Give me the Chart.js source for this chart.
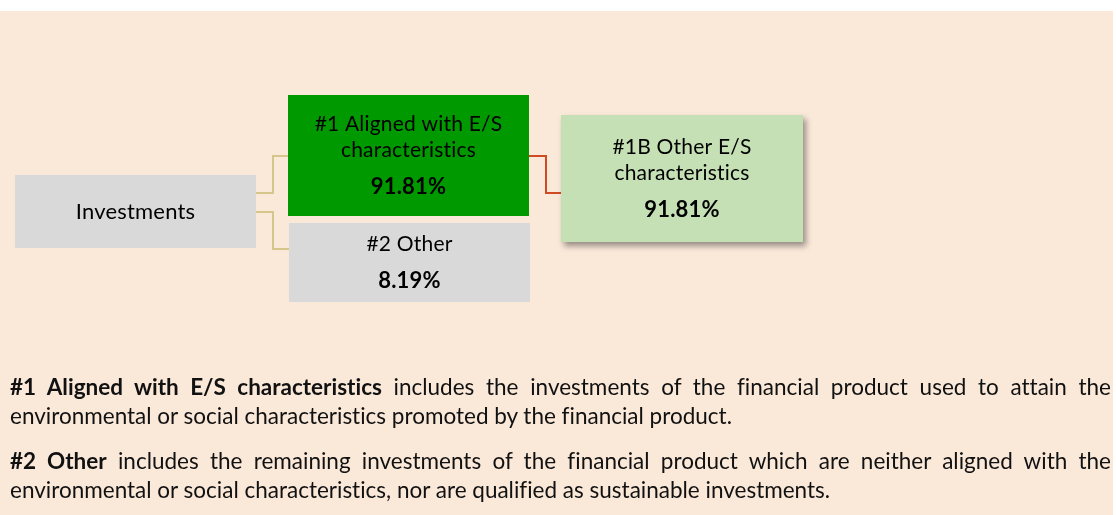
<!DOCTYPE html>
<html>
<head>
<meta charset="utf-8">
<script src="https://cdn.jsdelivr.net/npm/chart.js@4/dist/chart.umd.min.js"></script>
<style>
  html, body { margin: 0; padding: 0; background: #ffffff; }
  #wrap { position: relative; width: 1116px; height: 515px; overflow: hidden; }
  #bg { position: absolute; left: 0; top: 11px; width: 1113px; height: 504px; background: #FAE8D9; }
  #c { position: absolute; left: 0; top: 0; }
  #notes { position: absolute; left: 10px; top: 372px; width: 1101px; font-family: Lato, "Open Sans", sans-serif; font-size: 22.5px; line-height: 29px; color: #111; font-variant-ligatures: none; }
  #notes .p { margin: 0 0 16px 0; }
  #notes .l1 { text-align: justify; text-align-last: justify; white-space: nowrap; }
  #notes .l2 { text-align: left; white-space: nowrap; }
</style>
</head>
<body>
<div id="wrap">
  <div id="bg"></div>
  <canvas id="c" width="1116" height="515"></canvas>
  <div id="notes">
    <div class="p">
      <div class="l1"><b>#1 Aligned with E/S characteristics</b> includes the investments of the financial product used to attain the</div>
      <div class="l2">environmental or social characteristics promoted by the financial product.</div>
    </div>
    <div class="p">
      <div class="l1"><b>#2 Other</b> includes the remaining investments of the financial product which are neither aligned with the</div>
      <div class="l2">environmental or social characteristics, nor are qualified as sustainable investments.</div>
    </div>
  </div>
</div>
<script>
// ---- data ----
const categories = [
  ['Investments'],
  ['#1 Aligned with E/S', 'characteristics'],
  ['#2 Other'],
  ['#1B Other E/S', 'characteristics']
];
const shares = [null, 91.81, 8.19, 91.81];
const links = [[0, 1], [0, 2], [1, 3]];

// ---- layout (positions / styles, in scale units) ----
const boxLayout = [
  { x0: 15,  x1: 256, y0: 175, y1: 248, fill: '#D9D9D9', shadow: false },
  { x0: 288, x1: 529, y0: 95,  y1: 216, fill: '#009900', shadow: false },
  { x0: 289, x1: 530, y0: 223, y1: 302, fill: '#D9D9D9', shadow: false },
  { x0: 561, x1: 803, y0: 115, y1: 242, fill: '#C5E0B4', shadow: true }
];
const linkLayout = [
  { fromY: 193, toY: 156, midX: 273, color: '#D5C68C' },
  { fromY: 212, toY: 249, midX: 273, color: '#D5C68C' },
  { fromY: 156, toY: 193, midX: 546, color: '#D04B24' }
];

const FONT = 'Lato, "Open Sans", sans-serif';

const treePlugin = {
  id: 'tree',
  afterDatasetsDraw(chart) {
    const ctx = chart.ctx;
    const xs = chart.scales.x, ys = chart.scales.y;
    const px = v => xs.getPixelForValue(v);
    const py = v => ys.getPixelForValue(v);

    // connectors
    links.forEach(([a, b], i) => {
      const L = linkLayout[i];
      const A = boxLayout[a], B = boxLayout[b];
      ctx.save();
      ctx.strokeStyle = L.color;
      ctx.lineWidth = 2;
      ctx.beginPath();
      ctx.moveTo(px(A.x1), py(L.fromY));
      ctx.lineTo(px(L.midX), py(L.fromY));
      ctx.lineTo(px(L.midX), py(L.toY));
      ctx.lineTo(px(B.x0), py(L.toY));
      ctx.stroke();
      ctx.restore();
    });

    // boxes
    categories.forEach((lines, i) => {
      const B = boxLayout[i];
      const x0 = px(B.x0), x1 = px(B.x1), y0 = py(B.y0), y1 = py(B.y1);
      ctx.save();
      if (B.shadow) {
        ctx.shadowColor = 'rgba(0,0,0,0.4)';
        ctx.shadowBlur = 6;
        ctx.shadowOffsetX = 3;
        ctx.shadowOffsetY = 4;
      }
      ctx.fillStyle = B.fill;
      ctx.fillRect(x0, y0, x1 - x0, y1 - y0);
      ctx.restore();

      const cx = (x0 + x1) / 2, cy = (y0 + y1) / 2;
      const lh = 26.5, gap = 36.5;
      const hasVal = shares[i] !== null;
      const total = (lines.length - 1) * lh + (hasVal ? gap : 0);
      let y = cy - total / 2;
      ctx.save();
      ctx.fillStyle = '#000';
      ctx.textAlign = 'center';
      ctx.textBaseline = 'middle';
      try { ctx.letterSpacing = '0.2px'; } catch (e) {}
      ctx.font = (i === 0 ? '22px ' : '21px ') + FONT;
      lines.forEach((t, k) => {
        ctx.fillText(t, cx, y + k * lh);
      });
      if (hasVal) {
        ctx.font = 'bold 22px ' + FONT;
        ctx.fillText(shares[i].toFixed(2) + '%', cx, y + (lines.length - 1) * lh + gap);
      }
      ctx.restore();
    });
  }
};

new Chart(document.getElementById('c'), {
  type: 'scatter',
  data: {
    labels: categories.map(l => l.join(' ')),
    datasets: [{ data: [], pointRadius: 0 }]
  },
  options: {
    responsive: false,
    animation: false,
    layout: { padding: 0 },
    plugins: { legend: { display: false }, tooltip: { enabled: false } },
    scales: {
      x: { type: 'linear', min: 0, max: 1116, display: false },
      y: { type: 'linear', min: 0, max: 515, reverse: true, display: false }
    }
  },
  plugins: [treePlugin]
});
</script>
</body>
</html>
